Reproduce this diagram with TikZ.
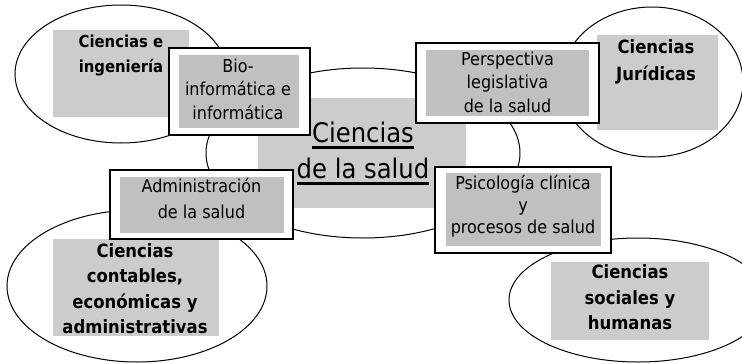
\documentclass[tikz,border=0pt]{standalone}
\usepackage{fontspec}
\setmainfont{DejaVu Sans Condensed}
\usetikzlibrary{shapes.geometric}
\definecolor{lightgr}{RGB}{204,204,204}
\definecolor{boxgr}{RGB}{192,192,192}
\newsavebox\ulsave
\newcommand\ulc[1]{\sbox\ulsave{#1}\rlap{\usebox\ulsave}\rule[-6.5pt]{\wd\ulsave}{2.2pt}}
\begin{document}
\begin{tikzpicture}[x=1pt,y=-1pt,
  oval/.style={ellipse, draw=black, line width=1pt, inner sep=0pt, outer sep=0pt},
  graybg/.style={fill=lightgr, inner sep=0pt, outer sep=0pt, anchor=north west},
  outbox/.style={draw=black, fill=white, line width=2pt, inner sep=0pt, outer sep=0pt, anchor=north west},
  inbox/.style={fill=boxgr, inner sep=0pt, outer sep=0pt, anchor=north west},
  boldtxt/.style={font=\bfseries\fontsize{18.3}{25.5}\selectfont, align=center, inner sep=0pt},
  regtxt/.style={font=\fontsize{17.8}{23.5}\selectfont, align=center, inner sep=0pt},
  bigtxt/.style={font=\fontsize{27}{36}\selectfont, align=center, inner sep=0pt}]
\useasboundingbox (0,0) rectangle (742,364);
% ellipses
\node[oval, minimum width=212pt, minimum height=138pt] (eTL) at (121,74) {};
\node[oval, minimum width=182pt, minimum height=150pt] (eTR) at (652,82) {};
\node[oval, minimum width=314pt, minimum height=170pt] (eC) at (363,153) {};
\node[oval, minimum width=260pt, minimum height=152pt] (eBL) at (137,286) {};
\node[oval, minimum width=258pt, minimum height=124pt] (eBR) at (638,300) {};
% gray areas
\node[graybg, minimum width=136pt, minimum height=87pt] (gTL) at (53,30) {};
\node[graybg, minimum width=121pt, minimum height=95pt] (gTR) at (597,35) {};
\node[graybg, minimum width=166pt, minimum height=97pt] (gBL) at (53,239) {};
\node[graybg, minimum width=158pt, minimum height=78pt] (gBR) at (551,262) {};
\node[graybg, minimum width=208pt, minimum height=110pt] (gC) at (258,98) {};
% texts of the fields
\node[boldtxt, font=\bfseries\fontsize{16.5}{25}\selectfont] (tTL) at (121,56) {Ciencias e\\ingeniería};
\node[boldtxt, font=\bfseries\fontsize{18.3}{27}\selectfont] (tTR) at (656,62) {Ciencias\\Jurídicas};
\node[boldtxt] (tBL) at (135,288.5) {Ciencias\\contables,\\económicas y\\administrativas};
\node[boldtxt] (tBR) at (630,297.5) {Ciencias\\sociales y\\humanas};
\node[bigtxt] (tC) at (363,153) {\ulc{Ciencias}\\\ulc{de la salud}};
% boxes
\node[outbox, minimum width=141pt, minimum height=87pt] (bBio) at (169,48) {};
\node[inbox, minimum width=120pt, minimum height=73pt] (iBio) at (179,55) {};
\node[regtxt] (tBio) at (238,89) {Bio-\\informática e\\informática};
\node[outbox, minimum width=183pt, minimum height=80pt] (bPer) at (416,43) {};
\node[inbox, minimum width=163pt, minimum height=66pt] (iPer) at (426,50) {};
\node[regtxt] (tPer) at (507.5,82) {Perspectiva\\legislativa\\de la salud};
\node[outbox, minimum width=183pt, minimum height=69pt] (bAdm) at (110,170) {};
\node[inbox, minimum width=164pt, minimum height=56pt] (iAdm) at (120,177) {};
\node[regtxt, font=\fontsize{17.8}{26}\selectfont] (tAdm) at (201.5,199) {Administración\\de la salud};
\node[outbox, minimum width=176pt, minimum height=86pt] (bPsi) at (435,167) {};
\node[inbox, minimum width=155pt, minimum height=73pt] (iPsi) at (446,173) {};
\node[regtxt, font=\fontsize{17.8}{22}\selectfont] (tPsi) at (523,206) {Psicología clínica\\y\\procesos de salud};
\end{tikzpicture}
\end{document}
